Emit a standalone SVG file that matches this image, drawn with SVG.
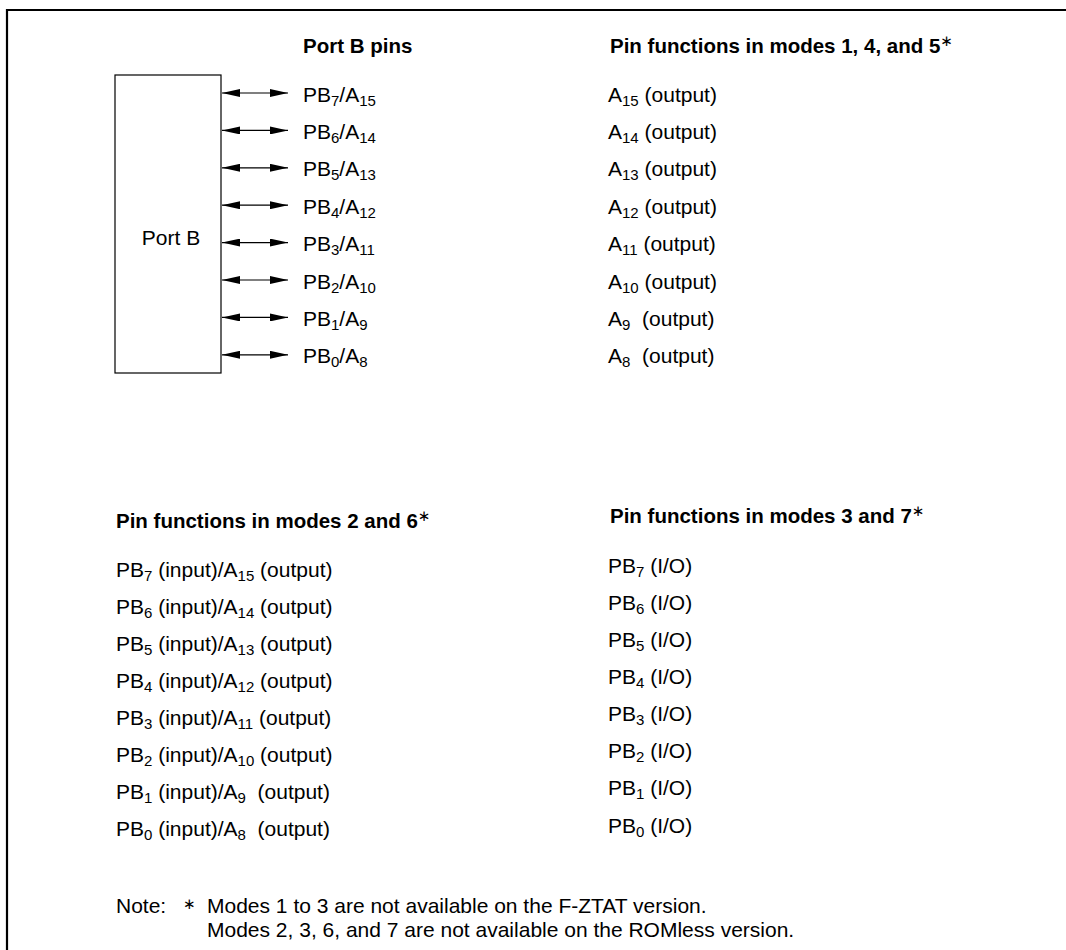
<svg xmlns="http://www.w3.org/2000/svg" width="1066" height="950" viewBox="0 0 1066 950">
<style>
text{font-family:"Liberation Sans",Arial,sans-serif;font-size:21px;fill:#000;white-space:pre}
.h{font-weight:bold;font-size:20.5px}
.s{font-size:15px}
.ast{font-family:"DejaVu Sans",sans-serif;font-size:15px;font-weight:normal}
.ln{stroke:#000;stroke-width:1.2;fill:none}
</style>
<defs>
<marker id="ah" viewBox="0 0 18 8" refX="18" refY="4" markerWidth="18" markerHeight="8" markerUnits="userSpaceOnUse" orient="auto-start-reverse">
<path d="M0,0 L18,4 L0,8 Z" fill="#000"/>
</marker>
</defs>
<rect width="1066" height="950" fill="#fff"/>
<path d="M7,950 V10 H1066" fill="none" stroke="#000" stroke-width="2.2"/>
<g id="headers">
<text class="h" x="303" y="52.5">Port B pins</text>
<text class="h" x="610" y="52.5">Pin functions in modes 1, 4, and 5<tspan class="ast" dy="-7">∗</tspan></text>
<text class="h" x="116" y="528">Pin functions in modes 2 and 6<tspan class="ast" dy="-7">∗</tspan></text>
<text class="h" x="610" y="523">Pin functions in modes 3 and 7<tspan class="ast" dy="-7">∗</tspan></text>
</g>
<g id="portB">
<rect x="115" y="75" width="106" height="298" fill="#fff" stroke="#000" stroke-width="1.2"/>
<text x="171" y="245" text-anchor="middle">Port B</text>
</g>
<g id="connectors">
<line class="ln" x1="222" y1="93" x2="288" y2="93" marker-start="url(#ah)" marker-end="url(#ah)"/>
<line class="ln" x1="222" y1="130.4" x2="288" y2="130.4" marker-start="url(#ah)" marker-end="url(#ah)"/>
<line class="ln" x1="222" y1="167.8" x2="288" y2="167.8" marker-start="url(#ah)" marker-end="url(#ah)"/>
<line class="ln" x1="222" y1="205.2" x2="288" y2="205.2" marker-start="url(#ah)" marker-end="url(#ah)"/>
<line class="ln" x1="222" y1="242.6" x2="288" y2="242.6" marker-start="url(#ah)" marker-end="url(#ah)"/>
<line class="ln" x1="222" y1="280" x2="288" y2="280" marker-start="url(#ah)" marker-end="url(#ah)"/>
<line class="ln" x1="222" y1="317.4" x2="288" y2="317.4" marker-start="url(#ah)" marker-end="url(#ah)"/>
<line class="ln" x1="222" y1="354.8" x2="288" y2="354.8" marker-start="url(#ah)" marker-end="url(#ah)"/>
</g>
<g id="pins">
<text x="303" y="101.5">PB<tspan class="s" dy="4">7</tspan><tspan dy="-4">/A</tspan><tspan class="s" dy="4">15</tspan></text>
<text x="303" y="138.9">PB<tspan class="s" dy="4">6</tspan><tspan dy="-4">/A</tspan><tspan class="s" dy="4">14</tspan></text>
<text x="303" y="176.3">PB<tspan class="s" dy="4">5</tspan><tspan dy="-4">/A</tspan><tspan class="s" dy="4">13</tspan></text>
<text x="303" y="213.7">PB<tspan class="s" dy="4">4</tspan><tspan dy="-4">/A</tspan><tspan class="s" dy="4">12</tspan></text>
<text x="303" y="251.1">PB<tspan class="s" dy="4">3</tspan><tspan dy="-4">/A</tspan><tspan class="s" dy="4">11</tspan></text>
<text x="303" y="288.5">PB<tspan class="s" dy="4">2</tspan><tspan dy="-4">/A</tspan><tspan class="s" dy="4">10</tspan></text>
<text x="303" y="325.9">PB<tspan class="s" dy="4">1</tspan><tspan dy="-4">/A</tspan><tspan class="s" dy="4">9</tspan></text>
<text x="303" y="363.3">PB<tspan class="s" dy="4">0</tspan><tspan dy="-4">/A</tspan><tspan class="s" dy="4">8</tspan></text>
</g>
<g id="modes145">
<text x="608" y="101.5">A<tspan class="s" dy="4">15</tspan><tspan dy="-4"> (output)</tspan></text>
<text x="608" y="138.9">A<tspan class="s" dy="4">14</tspan><tspan dy="-4"> (output)</tspan></text>
<text x="608" y="176.3">A<tspan class="s" dy="4">13</tspan><tspan dy="-4"> (output)</tspan></text>
<text x="608" y="213.7">A<tspan class="s" dy="4">12</tspan><tspan dy="-4"> (output)</tspan></text>
<text x="608" y="251.1">A<tspan class="s" dy="4">11</tspan><tspan dy="-4"> (output)</tspan></text>
<text x="608" y="288.5">A<tspan class="s" dy="4">10</tspan><tspan dy="-4"> (output)</tspan></text>
<text x="608" y="325.9">A<tspan class="s" dy="4">9</tspan><tspan dy="-4">  (output)</tspan></text>
<text x="608" y="363.3">A<tspan class="s" dy="4">8</tspan><tspan dy="-4">  (output)</tspan></text>
</g>
<g id="modes26">
<text x="116" y="576.5">PB<tspan class="s" dy="4">7</tspan><tspan dy="-4"> (input)/A</tspan><tspan class="s" dy="4">15</tspan><tspan dy="-4"> (output)</tspan></text>
<text x="116" y="613.5">PB<tspan class="s" dy="4">6</tspan><tspan dy="-4"> (input)/A</tspan><tspan class="s" dy="4">14</tspan><tspan dy="-4"> (output)</tspan></text>
<text x="116" y="650.5">PB<tspan class="s" dy="4">5</tspan><tspan dy="-4"> (input)/A</tspan><tspan class="s" dy="4">13</tspan><tspan dy="-4"> (output)</tspan></text>
<text x="116" y="687.5">PB<tspan class="s" dy="4">4</tspan><tspan dy="-4"> (input)/A</tspan><tspan class="s" dy="4">12</tspan><tspan dy="-4"> (output)</tspan></text>
<text x="116" y="724.5">PB<tspan class="s" dy="4">3</tspan><tspan dy="-4"> (input)/A</tspan><tspan class="s" dy="4">11</tspan><tspan dy="-4"> (output)</tspan></text>
<text x="116" y="761.5">PB<tspan class="s" dy="4">2</tspan><tspan dy="-4"> (input)/A</tspan><tspan class="s" dy="4">10</tspan><tspan dy="-4"> (output)</tspan></text>
<text x="116" y="798.5">PB<tspan class="s" dy="4">1</tspan><tspan dy="-4"> (input)/A</tspan><tspan class="s" dy="4">9</tspan><tspan dy="-4">  (output)</tspan></text>
<text x="116" y="835.5">PB<tspan class="s" dy="4">0</tspan><tspan dy="-4"> (input)/A</tspan><tspan class="s" dy="4">8</tspan><tspan dy="-4">  (output)</tspan></text>
</g>
<g id="modes37">
<text x="608" y="573">PB<tspan class="s" dy="4">7</tspan><tspan dy="-4"> (I/O)</tspan></text>
<text x="608" y="610">PB<tspan class="s" dy="4">6</tspan><tspan dy="-4"> (I/O)</tspan></text>
<text x="608" y="647">PB<tspan class="s" dy="4">5</tspan><tspan dy="-4"> (I/O)</tspan></text>
<text x="608" y="684">PB<tspan class="s" dy="4">4</tspan><tspan dy="-4"> (I/O)</tspan></text>
<text x="608" y="721">PB<tspan class="s" dy="4">3</tspan><tspan dy="-4"> (I/O)</tspan></text>
<text x="608" y="758">PB<tspan class="s" dy="4">2</tspan><tspan dy="-4"> (I/O)</tspan></text>
<text x="608" y="795">PB<tspan class="s" dy="4">1</tspan><tspan dy="-4"> (I/O)</tspan></text>
<text x="608" y="833">PB<tspan class="s" dy="4">0</tspan><tspan dy="-4"> (I/O)</tspan></text>
</g>
<g id="note">
<text x="116" y="912.5">Note:</text>
<text x="183" y="909" class="ast">∗</text>
<text x="207" y="912.5">Modes 1 to 3 are not available on the F-ZTAT version.</text>
<text x="207" y="936.5">Modes 2, 3, 6, and 7 are not available on the ROMless version.</text>
</g>
</svg>
